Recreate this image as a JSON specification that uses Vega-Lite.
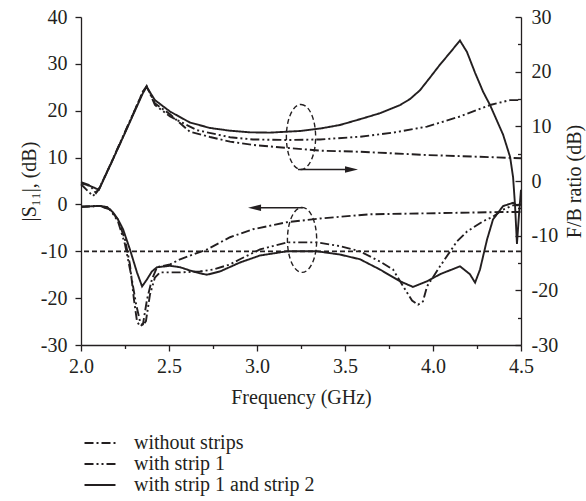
{
  "$schema": "https://vega.github.io/schema/vega-lite/v6.json",
  "width": 440,
  "height": 328,
  "autosize": {"type": "none"},
  "padding": {"left": 81, "top": 17, "right": 65, "bottom": 156},
  "background": "white",
  "config": {
    "view": {"stroke": null},
    "font": "Liberation Serif",
    "axis": {
      "domainColor": "#231f20", "tickColor": "#231f20", "labelColor": "#231f20", "titleColor": "#231f20",
      "labelFont": "Liberation Serif", "titleFont": "Liberation Serif",
      "labelFontSize": 20, "titleFontSize": 20, "titleFontWeight": "normal",
      "grid": false, "domainWidth": 1.3, "tickWidth": 1.3
    },
    "legend": {
      "labelFont": "Liberation Serif", "labelFontSize": 20, "labelColor": "#231f20", "labelLimit": 400,
      "symbolType": "M-2,0H2", "symbolSize": 240, "symbolStrokeWidth": 1.6, "symbolStrokeColor": "#231f20",
      "rowPadding": 1, "padding": 0, "symbolOffset": 0, "labelOffset": 24
    }
  },
  "datasets": {
    "s11": [
      {"series": "with strip 1 and strip 2", "f": 2.000, "v": -0.5},
      {"series": "with strip 1 and strip 2", "f": 2.108, "v": -0.3},
      {"series": "with strip 1 and strip 2", "f": 2.148, "v": -0.55},
      {"series": "with strip 1 and strip 2", "f": 2.182, "v": -1.7},
      {"series": "with strip 1 and strip 2", "f": 2.210, "v": -3.2},
      {"series": "with strip 1 and strip 2", "f": 2.239, "v": -5.3},
      {"series": "with strip 1 and strip 2", "f": 2.278, "v": -9.6},
      {"series": "with strip 1 and strip 2", "f": 2.318, "v": -14.5},
      {"series": "with strip 1 and strip 2", "f": 2.347, "v": -17.5},
      {"series": "with strip 1 and strip 2", "f": 2.375, "v": -16.0},
      {"series": "with strip 1 and strip 2", "f": 2.403, "v": -14.3},
      {"series": "with strip 1 and strip 2", "f": 2.432, "v": -13.4},
      {"series": "with strip 1 and strip 2", "f": 2.506, "v": -13.1},
      {"series": "with strip 1 and strip 2", "f": 2.563, "v": -13.4},
      {"series": "with strip 1 and strip 2", "f": 2.619, "v": -14.1},
      {"series": "with strip 1 and strip 2", "f": 2.676, "v": -14.7},
      {"series": "with strip 1 and strip 2", "f": 2.716, "v": -15.0},
      {"series": "with strip 1 and strip 2", "f": 2.790, "v": -14.3},
      {"series": "with strip 1 and strip 2", "f": 2.903, "v": -12.4},
      {"series": "with strip 1 and strip 2", "f": 3.017, "v": -10.9},
      {"series": "with strip 1 and strip 2", "f": 3.170, "v": -10.0},
      {"series": "with strip 1 and strip 2", "f": 3.341, "v": -10.0},
      {"series": "with strip 1 and strip 2", "f": 3.472, "v": -10.7},
      {"series": "with strip 1 and strip 2", "f": 3.585, "v": -11.7},
      {"series": "with strip 1 and strip 2", "f": 3.699, "v": -13.9},
      {"series": "with strip 1 and strip 2", "f": 3.813, "v": -16.4},
      {"series": "with strip 1 and strip 2", "f": 3.886, "v": -17.6},
      {"series": "with strip 1 and strip 2", "f": 3.966, "v": -16.4},
      {"series": "with strip 1 and strip 2", "f": 4.040, "v": -14.9},
      {"series": "with strip 1 and strip 2", "f": 4.153, "v": -13.2},
      {"series": "with strip 1 and strip 2", "f": 4.210, "v": -14.9},
      {"series": "with strip 1 and strip 2", "f": 4.239, "v": -16.7},
      {"series": "with strip 1 and strip 2", "f": 4.267, "v": -13.9},
      {"series": "with strip 1 and strip 2", "f": 4.307, "v": -7.5},
      {"series": "with strip 1 and strip 2", "f": 4.341, "v": -3.2},
      {"series": "with strip 1 and strip 2", "f": 4.398, "v": -0.35},
      {"series": "with strip 1 and strip 2", "f": 4.455, "v": 0.35},
      {"series": "with strip 1 and strip 2", "f": 4.477, "v": -0.2},
      {"series": "with strip 1 and strip 2", "f": 4.500, "v": 0.0},

      {"series": "without strips", "f": 2.000, "v": -0.5},
      {"series": "without strips", "f": 2.108, "v": -0.3},
      {"series": "without strips", "f": 2.165, "v": -1.1},
      {"series": "without strips", "f": 2.210, "v": -3.2},
      {"series": "without strips", "f": 2.250, "v": -7.5},
      {"series": "without strips", "f": 2.278, "v": -12.8},
      {"series": "without strips", "f": 2.301, "v": -20.3},
      {"series": "without strips", "f": 2.318, "v": -24.9},
      {"series": "without strips", "f": 2.335, "v": -26.0},
      {"series": "without strips", "f": 2.352, "v": -25.6},
      {"series": "without strips", "f": 2.375, "v": -20.3},
      {"series": "without strips", "f": 2.403, "v": -16.0},
      {"series": "without strips", "f": 2.432, "v": -13.4},
      {"series": "without strips", "f": 2.506, "v": -12.8},
      {"series": "without strips", "f": 2.563, "v": -11.7},
      {"series": "without strips", "f": 2.716, "v": -9.6},
      {"series": "without strips", "f": 2.847, "v": -7.0},
      {"series": "without strips", "f": 2.977, "v": -5.3},
      {"series": "without strips", "f": 3.170, "v": -3.8},
      {"series": "without strips", "f": 3.358, "v": -3.0},
      {"series": "without strips", "f": 3.642, "v": -2.1},
      {"series": "without strips", "f": 3.966, "v": -1.9},
      {"series": "without strips", "f": 4.341, "v": -1.65},
      {"series": "without strips", "f": 4.500, "v": -1.6},

      {"series": "with strip 1", "f": 2.000, "v": -0.5},
      {"series": "with strip 1", "f": 2.108, "v": -0.3},
      {"series": "with strip 1", "f": 2.165, "v": -1.1},
      {"series": "with strip 1", "f": 2.210, "v": -3.6},
      {"series": "with strip 1", "f": 2.250, "v": -8.5},
      {"series": "with strip 1", "f": 2.284, "v": -14.9},
      {"series": "with strip 1", "f": 2.313, "v": -21.3},
      {"series": "with strip 1", "f": 2.335, "v": -24.9},
      {"series": "with strip 1", "f": 2.352, "v": -25.8},
      {"series": "with strip 1", "f": 2.369, "v": -24.9},
      {"series": "with strip 1", "f": 2.392, "v": -19.2},
      {"series": "with strip 1", "f": 2.420, "v": -15.6},
      {"series": "with strip 1", "f": 2.449, "v": -14.5},
      {"series": "with strip 1", "f": 2.563, "v": -14.5},
      {"series": "with strip 1", "f": 2.676, "v": -14.3},
      {"series": "with strip 1", "f": 2.750, "v": -13.9},
      {"series": "with strip 1", "f": 2.847, "v": -12.8},
      {"series": "with strip 1", "f": 2.903, "v": -11.7},
      {"series": "with strip 1", "f": 3.017, "v": -9.6},
      {"series": "with strip 1", "f": 3.170, "v": -8.1},
      {"series": "with strip 1", "f": 3.341, "v": -8.1},
      {"series": "with strip 1", "f": 3.472, "v": -8.9},
      {"series": "with strip 1", "f": 3.585, "v": -10.0},
      {"series": "with strip 1", "f": 3.699, "v": -12.2},
      {"series": "with strip 1", "f": 3.773, "v": -13.9},
      {"series": "with strip 1", "f": 3.841, "v": -18.1},
      {"series": "with strip 1", "f": 3.881, "v": -20.5},
      {"series": "with strip 1", "f": 3.915, "v": -21.4},
      {"series": "with strip 1", "f": 3.943, "v": -20.7},
      {"series": "with strip 1", "f": 3.966, "v": -17.5},
      {"series": "with strip 1", "f": 4.040, "v": -13.2},
      {"series": "with strip 1", "f": 4.136, "v": -7.9},
      {"series": "with strip 1", "f": 4.193, "v": -5.8},
      {"series": "with strip 1", "f": 4.284, "v": -3.6},
      {"series": "with strip 1", "f": 4.341, "v": -2.6},
      {"series": "with strip 1", "f": 4.398, "v": -1.1},
      {"series": "with strip 1", "f": 4.455, "v": -0.2},
      {"series": "with strip 1", "f": 4.500, "v": 0.0}
    ],
    "fb": [
      {"series": "with strip 1 and strip 2", "f": 2.000, "v": -0.4},
      {"series": "with strip 1 and strip 2", "f": 2.051, "v": -0.9},
      {"series": "with strip 1 and strip 2", "f": 2.102, "v": -1.6},
      {"series": "with strip 1 and strip 2", "f": 2.165, "v": 2.8},
      {"series": "with strip 1 and strip 2", "f": 2.250, "v": 8.8},
      {"series": "with strip 1 and strip 2", "f": 2.324, "v": 14.1},
      {"series": "with strip 1 and strip 2", "f": 2.352, "v": 16.1},
      {"series": "with strip 1 and strip 2", "f": 2.373, "v": 17.2},
      {"series": "with strip 1 and strip 2", "f": 2.420, "v": 14.8},
      {"series": "with strip 1 and strip 2", "f": 2.506, "v": 12.7},
      {"series": "with strip 1 and strip 2", "f": 2.619, "v": 10.7},
      {"series": "with strip 1 and strip 2", "f": 2.733, "v": 9.7},
      {"series": "with strip 1 and strip 2", "f": 2.847, "v": 9.2},
      {"series": "with strip 1 and strip 2", "f": 2.960, "v": 8.9},
      {"series": "with strip 1 and strip 2", "f": 3.074, "v": 8.85},
      {"series": "with strip 1 and strip 2", "f": 3.244, "v": 9.15},
      {"series": "with strip 1 and strip 2", "f": 3.360, "v": 9.6},
      {"series": "with strip 1 and strip 2", "f": 3.472, "v": 10.25},
      {"series": "with strip 1 and strip 2", "f": 3.585, "v": 11.3},
      {"series": "with strip 1 and strip 2", "f": 3.699, "v": 12.4},
      {"series": "with strip 1 and strip 2", "f": 3.813, "v": 13.9},
      {"series": "with strip 1 and strip 2", "f": 3.870, "v": 15.0},
      {"series": "with strip 1 and strip 2", "f": 3.926, "v": 16.6},
      {"series": "with strip 1 and strip 2", "f": 3.980, "v": 18.8},
      {"series": "with strip 1 and strip 2", "f": 4.040, "v": 21.3},
      {"series": "with strip 1 and strip 2", "f": 4.100, "v": 23.6},
      {"series": "with strip 1 and strip 2", "f": 4.153, "v": 25.7},
      {"series": "with strip 1 and strip 2", "f": 4.193, "v": 23.6},
      {"series": "with strip 1 and strip 2", "f": 4.239, "v": 19.8},
      {"series": "with strip 1 and strip 2", "f": 4.285, "v": 16.3},
      {"series": "with strip 1 and strip 2", "f": 4.324, "v": 13.9},
      {"series": "with strip 1 and strip 2", "f": 4.398, "v": 8.5},
      {"series": "with strip 1 and strip 2", "f": 4.438, "v": 4.4},
      {"series": "with strip 1 and strip 2", "f": 4.455, "v": 0.7},
      {"series": "with strip 1 and strip 2", "f": 4.466, "v": -4.4},
      {"series": "with strip 1 and strip 2", "f": 4.477, "v": -11.5},
      {"series": "with strip 1 and strip 2", "f": 4.489, "v": -6.0},
      {"series": "with strip 1 and strip 2", "f": 4.500, "v": -1.6},

      {"series": "without strips", "f": 2.000, "v": -0.2},
      {"series": "without strips", "f": 2.051, "v": -0.8},
      {"series": "without strips", "f": 2.085, "v": -2.2},
      {"series": "without strips", "f": 2.102, "v": -1.4},
      {"series": "without strips", "f": 2.165, "v": 2.8},
      {"series": "without strips", "f": 2.250, "v": 8.9},
      {"series": "without strips", "f": 2.324, "v": 14.3},
      {"series": "without strips", "f": 2.352, "v": 16.3},
      {"series": "without strips", "f": 2.373, "v": 17.3},
      {"series": "without strips", "f": 2.420, "v": 14.2},
      {"series": "without strips", "f": 2.506, "v": 12.2},
      {"series": "without strips", "f": 2.619, "v": 9.0},
      {"series": "without strips", "f": 2.733, "v": 8.05},
      {"series": "without strips", "f": 2.847, "v": 7.2},
      {"series": "without strips", "f": 2.977, "v": 6.6},
      {"series": "without strips", "f": 3.170, "v": 6.05},
      {"series": "without strips", "f": 3.358, "v": 5.55},
      {"series": "without strips", "f": 3.585, "v": 5.35},
      {"series": "without strips", "f": 3.966, "v": 4.75},
      {"series": "without strips", "f": 4.341, "v": 4.35},
      {"series": "without strips", "f": 4.500, "v": 4.15},

      {"series": "with strip 1", "f": 2.000, "v": -0.6},
      {"series": "with strip 1", "f": 2.068, "v": -2.75},
      {"series": "with strip 1", "f": 2.102, "v": -1.5},
      {"series": "with strip 1", "f": 2.165, "v": 2.9},
      {"series": "with strip 1", "f": 2.250, "v": 9.0},
      {"series": "with strip 1", "f": 2.324, "v": 14.3},
      {"series": "with strip 1", "f": 2.352, "v": 16.4},
      {"series": "with strip 1", "f": 2.373, "v": 17.4},
      {"series": "with strip 1", "f": 2.420, "v": 13.9},
      {"series": "with strip 1", "f": 2.506, "v": 11.8},
      {"series": "with strip 1", "f": 2.659, "v": 9.3},
      {"series": "with strip 1", "f": 2.847, "v": 8.0},
      {"series": "with strip 1", "f": 2.977, "v": 7.6},
      {"series": "with strip 1", "f": 3.170, "v": 7.5},
      {"series": "with strip 1", "f": 3.358, "v": 7.6},
      {"series": "with strip 1", "f": 3.585, "v": 8.1},
      {"series": "with strip 1", "f": 3.773, "v": 8.85},
      {"series": "with strip 1", "f": 3.966, "v": 9.95},
      {"series": "with strip 1", "f": 4.153, "v": 11.8},
      {"series": "with strip 1", "f": 4.324, "v": 13.9},
      {"series": "with strip 1", "f": 4.438, "v": 14.8},
      {"series": "with strip 1", "f": 4.500, "v": 14.8}
    ],
    "ref": [{"v": -10}],
    "ellipses": [{"f": 3.25, "v": 14.4}, {"f": 3.256, "v": -7.57}],
    "arrows": [{"f": 3.233, "f2": 3.54, "v": 7.46}, {"f": 3.261, "f2": 2.98, "v": -0.7}],
    "heads": [{"dir": "right", "f": 3.537, "v": 7.46}, {"dir": "left", "f": 2.986, "v": -0.7}]
  },
  "layer": [
    {
      "layer": [
        {
          "data": {"name": "s11"},
          "mark": {"type": "line", "color": "#231f20"},
          "encoding": {
            "x": {
              "field": "f", "type": "quantitative",
              "scale": {"domain": [2, 4.5], "nice": false, "zero": false},
              "axis": {
                "title": "Frequency (GHz)",
                "values": [2, 2.25, 2.5, 2.75, 3, 3.25, 3.5, 3.75, 4, 4.25, 4.5],
                "labelExpr": "(datum.value * 2) % 1 === 0 ? format(datum.value, '.1f') : ''",
                "tickSize": {"condition": {"test": "(datum.value * 2) % 1 === 0", "value": 6}, "value": 3.5},
                "labelPadding": 5, "titlePadding": 11, "labelFlush": false
              }
            },
            "y": {
              "field": "v", "type": "quantitative",
              "scale": {"domain": [-30, 40], "nice": false, "zero": false},
              "axis": {
                "orient": "left",
                "title": "|S₁₁|, (dB)",
                "values": [-30, -25, -20, -15, -10, -5, 0, 5, 10, 15, 20, 25, 30, 35, 40],
                "labelExpr": "datum.value % 10 === 0 ? '' + datum.value : ''",
                "tickSize": {"condition": {"test": "datum.value % 10 === 0", "value": 6}, "value": 3.5},
                "labelPadding": 8, "titlePadding": 1, "labelFlush": false
              }
            },
            "strokeDash": {
              "field": "series", "type": "nominal",
              "scale": {
                "domain": ["without strips", "with strip 1", "with strip 1 and strip 2"],
                "range": [[9, 3, 2, 3], [9, 3, 2, 3, 2, 3], [1, 0]]
              },
              "legend": {"orient": "none", "legendX": 9, "legendY": 416, "title": null}
            },
            "strokeWidth": {
              "field": "series", "type": "nominal",
              "scale": {"domain": ["without strips", "with strip 1", "with strip 1 and strip 2"], "range": [1.9, 1.9, 2.2]},
              "legend": null
            }
          }
        },
        {
          "data": {"name": "ref"},
          "mark": {"type": "rule", "color": "#231f20", "strokeWidth": 1.7, "strokeDash": [5, 3]},
          "encoding": {
            "y": {"field": "v", "type": "quantitative", "scale": {"domain": [-30, 40]}}
          }
        },
        {
          "data": {"name": "ellipses"},
          "mark": {
            "type": "point", "filled": false, "color": "#231f20", "strokeWidth": 1.4, "strokeDash": [5, 3],
            "size": 4225, "opacity": 1,
            "shape": "M0,-1C0.25,-1,0.45,-0.552,0.45,0C0.45,0.552,0.25,1,0,1C-0.25,1,-0.45,0.552,-0.45,0C-0.45,-0.552,-0.25,-1,0,-1Z"
          },
          "encoding": {
            "x": {"field": "f", "type": "quantitative"},
            "y": {"field": "v", "type": "quantitative", "scale": {"domain": [-30, 40]}}
          }
        },
        {
          "data": {"name": "arrows"},
          "mark": {"type": "rule", "color": "#231f20", "strokeWidth": 1.6},
          "encoding": {
            "x": {"field": "f", "type": "quantitative"},
            "x2": {"field": "f2"},
            "y": {"field": "v", "type": "quantitative", "scale": {"domain": [-30, 40]}}
          }
        },
        {
          "data": {"name": "heads"},
          "mark": {"type": "point", "filled": true, "color": "#231f20", "size": 169, "opacity": 1, "strokeWidth": 0},
          "encoding": {
            "x": {"field": "f", "type": "quantitative"},
            "y": {"field": "v", "type": "quantitative", "scale": {"domain": [-30, 40]}},
            "shape": {
              "field": "dir", "type": "nominal",
              "scale": {"domain": ["right", "left"], "range": ["M1,0L-1,-0.5L-1,0.5Z", "M-1,0L1,-0.5L1,0.5Z"]},
              "legend": null
            }
          }
        }
      ]
    },
    {
      "data": {"name": "fb"},
      "mark": {"type": "line", "color": "#231f20"},
      "encoding": {
        "x": {"field": "f", "type": "quantitative"},
        "y": {
          "field": "v", "type": "quantitative",
          "scale": {"domain": [-30, 30], "nice": false, "zero": false},
          "axis": {
            "orient": "right",
            "title": "F/B ratio (dB)",
            "titleAngle": 270, "titleBaseline": "top",
            "values": [-30, -25, -20, -15, -10, -5, 0, 5, 10, 15, 20, 25, 30],
            "labelExpr": "datum.value % 10 === 0 ? '' + datum.value : ''",
            "tickSize": {"condition": {"test": "datum.value % 10 === 0", "value": -6}, "value": -3.5},
            "labelPadding": 16, "titlePadding": 7, "labelFlush": false
          }
        },
        "strokeDash": {"field": "series", "type": "nominal"},
        "strokeWidth": {"field": "series", "type": "nominal", "legend": null}
      }
    }
  ],
  "resolve": {"scale": {"y": "independent"}}
}
